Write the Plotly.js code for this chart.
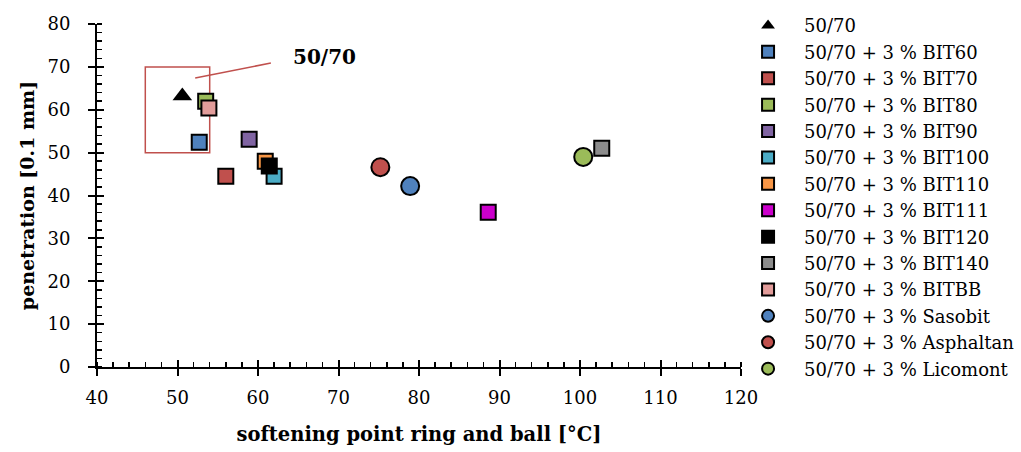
<!DOCTYPE html>
<html>
<head>
<meta charset="utf-8">
<script src="https://cdn.plot.ly/plotly-3.0.1.min.js"></script>
<style>html,body{margin:0;padding:0;background:#fff;}#chart{width:1021px;height:452px;}</style>
</head>
<body>
<div id="chart"></div>
<script>
// Series names
const names = [
  "50/70",
  "50/70 + 3 % BIT60",
  "50/70 + 3 % BIT70",
  "50/70 + 3 % BIT80",
  "50/70 + 3 % BIT90",
  "50/70 + 3 % BIT100",
  "50/70 + 3 % BIT110",
  "50/70 + 3 % BIT111",
  "50/70 + 3 % BIT120",
  "50/70 + 3 % BIT140",
  "50/70 + 3 % BITBB",
  "50/70 + 3 % Sasobit",
  "50/70 + 3 % Asphaltan",
  "50/70 + 3 % Licomont"
];
// softening point ring and ball [°C]
const softening = [50.6, 52.7, 56.0, 53.5, 58.9, 62.0, 60.9, 88.6, 61.4, 102.7, 53.9, 78.9, 75.2, 100.4];
// penetration [0.1 mm]
const penetration = [63.2, 52.4, 44.5, 62.0, 53.1, 44.5, 48.0, 36.1, 46.9, 51.0, 60.4, 42.2, 46.6, 49.0];

const colors = ["#000000","#4f81bd","#c0504d","#9bbb59","#8064a2","#4bacc6","#f79646","#cc00cc","#000000","#8c8c8c","#e29c9a","#4f81bd","#c0504d","#9bbb59"];
const symbols = ["triangle-up","square","square","square","square","square","square","square","square","square","square","circle","circle","circle"];

// Highlight box & label for 50/70
const boxX = [46, 54], boxY = [50, 70];
const leaderX = [52.2, 61.6], leaderY = [67.4, 70.9];
const labelX = 68.2, labelY = 72.4, labelText = "50/70";

const FONT = "DejaVu Serif, serif";

const traces = names.map((n, i) => ({
  type: "scatter",
  mode: "markers",
  name: n,
  x: [softening[i]],
  y: [penetration[i]],
  marker: {
    symbol: symbols[i],
    color: colors[i],
    size: symbols[i] === "circle" ? 18 : (symbols[i] === "triangle-up" ? 17 : 15),
    line: {color: "#000", width: symbols[i] === "triangle-up" ? 0 : 2}
  }
}));
// overlay axes for inside major ticks
traces.push({type:"scatter", mode:"markers", x:[], y:[], xaxis:"x2", yaxis:"y2", showlegend:false, hoverinfo:"skip"});

const layout = {
  width: 1021, height: 452,
  margin: {l: 97, r: 280, t: 24, b: 85, autoexpand: false},
  paper_bgcolor: "#fff", plot_bgcolor: "#fff",
  font: {family: FONT, size: 17, color: "#000"},
  showlegend: true,
  legend: {xref: "container", yref: "container", x: 0.717, xanchor: "left", y: 0.984, yanchor: "top", maxheight: 2000,
    font: {family: FONT, size: 18}, itemsizing: "constant", itemwidth: 62, tracegroupgap: 0, bgcolor: "rgba(0,0,0,0)"},
  xaxis: {
    range: [40, 120], dtick: 10, tick0: 40,
    showgrid: false, zeroline: false, showline: true, linecolor: "#000", linewidth: 2,
    ticks: "outside", ticklen: 7, tickwidth: 2, tickcolor: "#000", ticklabelstandoff: 6,
    minor: {dtick: 2, ticks: "inside", ticklen: 5, tickwidth: 1.5, tickcolor: "#000", showgrid: false},
    tickfont: {family: FONT, size: 18},
    title: {text: "<b>softening point ring and ball [°C]</b>", font: {family: FONT, size: 19.5}, standoff: 21}
  },
  yaxis: {
    range: [0, 80], dtick: 10,
    showgrid: false, zeroline: false, showline: true, linecolor: "#000", linewidth: 2,
    ticks: "outside", ticklen: 7, tickwidth: 2, tickcolor: "#000", ticklabelstandoff: 14,
    minor: {dtick: 2, ticks: "inside", ticklen: 5, tickwidth: 1.5, tickcolor: "#000", showgrid: false},
    tickfont: {family: FONT, size: 18},
    title: {text: "<b>penetration [0.1 mm]</b>", font: {family: FONT, size: 19}, standoff: 8}
  },
  xaxis2: {overlaying: "x", matches: "x", showticklabels: false, showgrid: false, zeroline: false, showline: false,
    ticks: "inside", ticklen: 7, tickwidth: 2, tickcolor: "#000", dtick: 10, tick0: 40},
  yaxis2: {overlaying: "y", matches: "y", showticklabels: false, showgrid: false, zeroline: false, showline: false,
    ticks: "inside", ticklen: 7, tickwidth: 2, tickcolor: "#000", dtick: 10},
  shapes: [
    {type: "rect", xref: "x", yref: "y", x0: boxX[0], x1: boxX[1], y0: boxY[0], y1: boxY[1], line: {color: "#c0504d", width: 1.5}, layer: "below"},
    {type: "line", xref: "x", yref: "y", x0: leaderX[0], x1: leaderX[1], y0: leaderY[0], y1: leaderY[1], line: {color: "#c0504d", width: 1.5}}
  ],
  annotations: [
    {xref: "x", yref: "y", x: labelX, y: labelY, text: "<b>" + labelText + "</b>", showarrow: false, font: {family: FONT, size: 20, color: "#000"}}
  ]
};

Plotly.newPlot("chart", traces, layout, {displayModeBar: false, staticPlot: true});
</script>
</body>
</html>
